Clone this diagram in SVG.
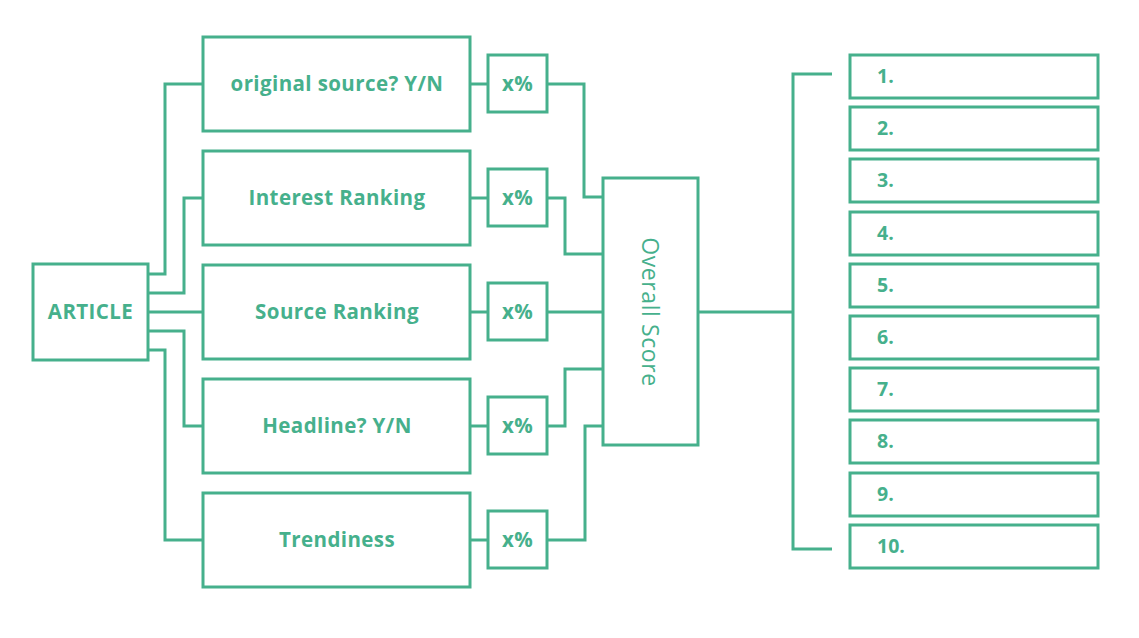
<svg xmlns="http://www.w3.org/2000/svg" width="1139" height="638" viewBox="0 0 1139 638">
<style>
.box{fill:#fff;stroke:#46b08c;stroke-width:3}
.ln{fill:none;stroke:#46b08c;stroke-width:3}
.t{font-family:"Open Sans",Lato,"Liberation Sans",sans-serif;font-weight:700;font-size:20.5px;letter-spacing:0.4px;fill:#46b08c;text-anchor:middle}
.n{font-family:"Open Sans",Lato,"Liberation Sans",sans-serif;font-weight:700;font-size:19.5px;fill:#46b08c}
.o{font-family:"Open Sans",Lato,"Liberation Sans",sans-serif;font-weight:400;font-size:23px;letter-spacing:0.6px;fill:#46b08c;text-anchor:middle}
</style>
<rect width="1139" height="638" fill="#fff"/>
<g id="connectors">
<polyline class="ln" points="148,274 165,274 165,84 203,84"/>
<polyline class="ln" points="148,293 184,293 184,198 203,198"/>
<polyline class="ln" points="148,312 203,312"/>
<polyline class="ln" points="148,331 184,331 184,426 203,426"/>
<polyline class="ln" points="148,350 165,350 165,540 203,540"/>
<line class="ln" x1="470" y1="84" x2="488" y2="84"/>
<line class="ln" x1="470" y1="198" x2="488" y2="198"/>
<line class="ln" x1="470" y1="312" x2="488" y2="312"/>
<line class="ln" x1="470" y1="426" x2="488" y2="426"/>
<line class="ln" x1="470" y1="540" x2="488" y2="540"/>
<polyline class="ln" points="547,84 584,84 584,197 603,197"/>
<polyline class="ln" points="547,198 565,198 565,254 603,254"/>
<polyline class="ln" points="547,312 603,312"/>
<polyline class="ln" points="547,426 565,426 565,369 603,369"/>
<polyline class="ln" points="547,540 585,540 585,426 603,426"/>
<line class="ln" x1="698" y1="312" x2="793" y2="312"/>
<polyline class="ln" points="832,74 793,74 793,549 832,549"/>
</g>
<g id="article"><rect class="box" x="33" y="264" width="115" height="96"/><text class="t" x="90.5" y="319">ARTICLE</text></g>
<g id="original-source"><rect class="box" x="203" y="37" width="267" height="94"/><text class="t" x="337" y="91">original source? Y/N</text></g>
<g id="interest-ranking"><rect class="box" x="203" y="151" width="267" height="94"/><text class="t" x="337" y="205">Interest Ranking</text></g>
<g id="source-ranking"><rect class="box" x="203" y="265" width="267" height="94"/><text class="t" x="337" y="319">Source Ranking</text></g>
<g id="headline"><rect class="box" x="203" y="379" width="267" height="94"/><text class="t" x="337" y="433">Headline? Y/N</text></g>
<g id="trendiness"><rect class="box" x="203" y="493" width="267" height="94"/><text class="t" x="337" y="547">Trendiness</text></g>
<g id="w1"><rect class="box" x="488" y="55" width="59" height="57"/><text class="t" x="517.5" y="91">x%</text></g>
<g id="w2"><rect class="box" x="488" y="169" width="59" height="57"/><text class="t" x="517.5" y="205">x%</text></g>
<g id="w3"><rect class="box" x="488" y="283" width="59" height="57"/><text class="t" x="517.5" y="319">x%</text></g>
<g id="w4"><rect class="box" x="488" y="397" width="59" height="57"/><text class="t" x="517.5" y="433">x%</text></g>
<g id="w5"><rect class="box" x="488" y="511" width="59" height="57"/><text class="t" x="517.5" y="547">x%</text></g>
<g id="overall"><rect class="box" x="603" y="178" width="95" height="267"/><text class="o" transform="translate(650,312) rotate(90)" y="8">Overall Score</text></g>
<g id="r1"><rect class="box" x="850" y="55" width="248" height="43"/><text class="n" x="877" y="83">1.</text></g>
<g id="r2"><rect class="box" x="850" y="107" width="248" height="43"/><text class="n" x="877" y="135">2.</text></g>
<g id="r3"><rect class="box" x="850" y="159" width="248" height="43"/><text class="n" x="877" y="187">3.</text></g>
<g id="r4"><rect class="box" x="850" y="212" width="248" height="43"/><text class="n" x="877" y="240">4.</text></g>
<g id="r5"><rect class="box" x="850" y="264" width="248" height="43"/><text class="n" x="877" y="292">5.</text></g>
<g id="r6"><rect class="box" x="850" y="316" width="248" height="43"/><text class="n" x="877" y="344">6.</text></g>
<g id="r7"><rect class="box" x="850" y="368" width="248" height="43"/><text class="n" x="877" y="396">7.</text></g>
<g id="r8"><rect class="box" x="850" y="420" width="248" height="43"/><text class="n" x="877" y="448">8.</text></g>
<g id="r9"><rect class="box" x="850" y="473" width="248" height="43"/><text class="n" x="877" y="501">9.</text></g>
<g id="r10"><rect class="box" x="850" y="525" width="248" height="43"/><text class="n" x="877" y="553">10.</text></g>
</svg>
